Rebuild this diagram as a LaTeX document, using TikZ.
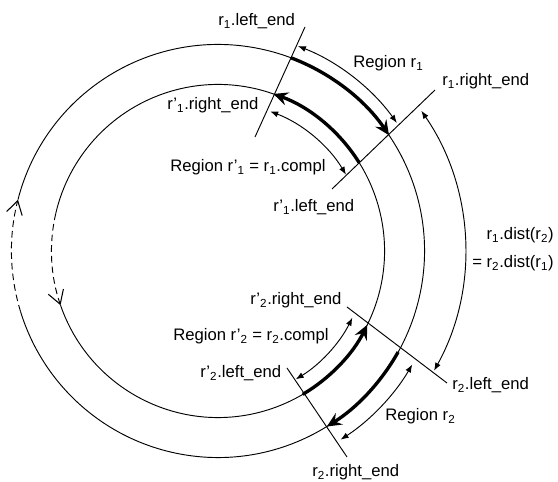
\documentclass[tikz,border=0pt]{standalone}
\usepackage{fontspec}
\setmainfont{Liberation Sans}
\usetikzlibrary{arrows.meta}
\newcommand{\sub}[1]{\textsubscript{#1}}
\begin{document}
\begin{tikzpicture}[x=0.75pt,y=0.75pt,
  ring/.style={line width=0.7pt},
  dim/.style={line width=0.7pt,{Latex[length=6pt,width=4.5pt]}-{Latex[length=6pt,width=4.5pt]}},
  heavy/.style={line width=2.5pt,-{Stealth[length=11pt,width=10pt,inset=4pt]}},
  flow/.style={line width=0.7pt,dash pattern=on 5pt off 3pt,-{Straight Barb[length=10pt,width=12pt,line width=0.8pt]}},
  endline/.style={line width=0.7pt},
  lbl/.style={inner sep=0pt,anchor=base west,font=\fontsize{12.5}{15}\selectfont}]
\useasboundingbox (0,0) rectangle (558,482);
\coordinate (C) at (218,231);
% rings
\draw[ring] (C) ++(165.6:154.9pt) arc[start angle=165.6,end angle=-163,radius=154.9pt];
\draw[flow] (C) ++(197:154.9pt) arc[start angle=197,end angle=165.6,radius=154.9pt];
\draw[ring] (C) ++(199:124.9pt) arc[start angle=199,end angle=527,radius=124.9pt];
\draw[flow] (C) ++(167:124.9pt) arc[start angle=167,end angle=199,radius=124.9pt];
% end lines
\coordinate (L1a) at (305,455); \coordinate (L1b) at (255,345);
\coordinate (R1a) at (435,392); \coordinate (R1b) at (332,293);
\coordinate (L2a) at (447,99);  \coordinate (L2b) at (347,175);
\coordinate (R2a) at (347,25);  \coordinate (R2b) at (287,114);
\draw[endline] (L1a) -- (L1b);
\draw[endline] (R1a) -- (R1b);
\draw[endline] (L2a) -- (L2b);
\draw[endline] (R2a) -- (R2b);
% thick regions
\draw[heavy] (C) ++(69.3:154.9pt) arc[start angle=69.3,end angle=34.1,radius=154.9pt];
\draw[heavy] (C) ++(32.1:124.9pt) arc[start angle=32.1,end angle=70.6,radius=124.9pt];
\draw[heavy] (C) ++(-29.3:154.9pt) arc[start angle=-29.3,end angle=-58.2,radius=154.9pt];
\draw[heavy] (C) ++(-59.4:124.9pt) arc[start angle=-59.4,end angle=-26.3,radius=124.9pt];
% dimension arcs
\draw[dim] (C) ++(68.7:165pt) arc[start angle=68.7,end angle=35.6,radius=165pt];
\draw[dim] (C) ++(69.5:111.75pt) arc[start angle=69.5,end angle=30.8,radius=111.75pt];
\draw[dim] (C) ++(34.6:185.25pt) arc[start angle=34.6,end angle=-29,radius=185.25pt];
\draw[dim] (C) ++(-30.3:168.75pt) arc[start angle=-30.3,end angle=-57,radius=168.75pt];
\draw[dim] (C) ++(-26.4:112.5pt) arc[start angle=-26.4,end angle=-58.8,radius=112.5pt];
% labels
\node[lbl] (t1) at (218,456) {r\sub{1}.left\_end};
\node[lbl] (t2) at (353,414) {Region r\sub{1}};
\node[lbl] (t3) at (442,396) {r\sub{1}.right\_end};
\node[lbl] (t4) at (167,372) {r’\sub{1}.right\_end};
\node[lbl] (t5) at (170,310) {Region r’\sub{1} = r\sub{1}.compl};
\node[lbl] (t6) at (273,270) {r’\sub{1}.left\_end};
\node[lbl,anchor=base east] (t7) at (554,242) {r\sub{1}.dist(r\sub{2})};
\node[lbl,anchor=base east] (t8) at (554,214) {= r\sub{2}.dist(r\sub{1})};
\node[lbl] (t9) at (250,177) {r’\sub{2}.right\_end};
\node[lbl] (t10) at (173,141) {Region r’\sub{2} = r\sub{2}.compl};
\node[lbl] (t11) at (200,104) {r’\sub{2}.left\_end};
\node[lbl] (t12) at (452,92) {r\sub{2}.left\_end};
\node[lbl] (t13) at (385,61) {Region r\sub{2}};
\node[lbl] (t14) at (312,5) {r\sub{2}.right\_end};
\end{tikzpicture}
\end{document}
